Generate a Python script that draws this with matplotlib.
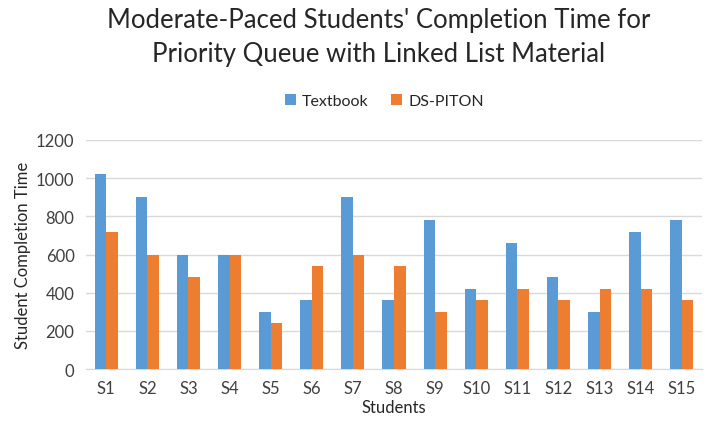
import matplotlib.pyplot as plt
import numpy as np

students = [f"S{i}" for i in range(1, 16)]
textbook = [1020, 900, 600, 600, 300, 360, 900, 360, 780, 420, 660, 480, 300, 720, 780]
ds_piton = [720, 600, 480, 600, 240, 540, 600, 540, 300, 360, 420, 360, 420, 420, 360]

plt.rcParams['font.family'] = ['Lato', 'DejaVu Sans']

fig = plt.figure(figsize=(7.08, 4.27), dpi=100)
ax = fig.add_axes([0.121, 0.133, 0.871, 0.537])

x = np.arange(len(students))
w = 0.28
ax.bar(x - w / 2, textbook, w, color='#5B9BD5', label='Textbook', zorder=3)
ax.bar(x + w / 2, ds_piton, w, color='#ED7D31', label='DS-PITON', zorder=3)

ax.set_xlim(-0.5, len(students) - 0.5)
ax.set_ylim(0, 1200)
ax.set_yticks(range(0, 1201, 200))
ax.set_xticks(x)
ax.set_xticklabels(students)
ax.tick_params(length=0, labelsize=12, colors='#404040', pad=8)
ax.grid(axis='y', color='#D9D9D9', linewidth=1, zorder=0)
for s in ['top', 'right', 'left']:
    ax.spines[s].set_visible(False)
ax.spines['bottom'].set_color('#D9D9D9')

ax.set_xlabel('Students', fontsize=12, color='#262626', labelpad=2)
ax.set_ylabel('Student Completion Time', fontsize=12, color='#262626')

fig.text(0.535, 0.913, "Moderate-Paced Students' Completion Time for\nPriority Queue with Linked List Material",
         ha='center', va='center', fontsize=18.5, color='#262626', linespacing=1.45)
fig.legend(loc='center', bbox_to_anchor=(0.543, 0.762), ncol=2, frameon=False,
           fontsize=11.5, handlelength=0.7, handleheight=0.7, columnspacing=1.4, handletextpad=0.4,
           labelcolor='#262626')

fig.savefig('out.png', dpi=100)
